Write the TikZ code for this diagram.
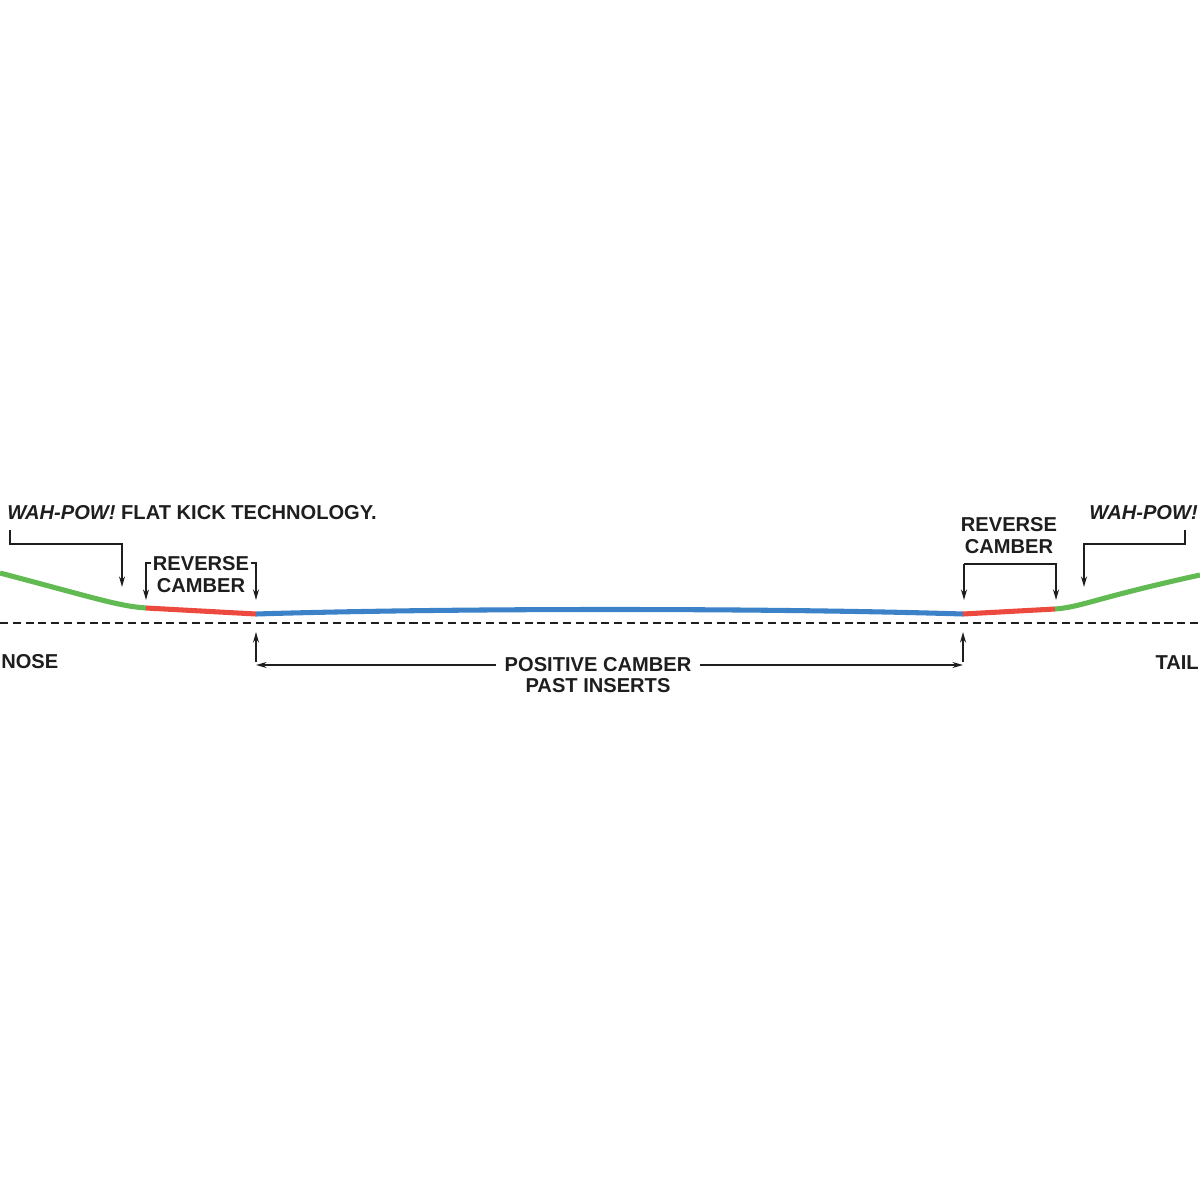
\documentclass[tikz,border=0pt]{standalone}
\usepackage{fontspec}
\setmainfont{Liberation Sans}
\usetikzlibrary{arrows.meta, positioning, calc}
\definecolor{verde}{RGB}{98, 186, 82}
\definecolor{vermelho}{RGB}{236, 74, 62}
\definecolor{azul}{RGB}{60, 130, 200}
\definecolor{tinta}{RGB}{30, 30, 30}
\tikzset{
  rotulo/.style={
    font=\fontsize{14.3}{15.6}\selectfont\bfseries, text=tinta,
    inner sep=0pt, align=center
  },
  seta/.style={-{Stealth[length=7.5pt, width=4.2pt]}, line width=1.3pt, tinta},
  prancha/.style={line width=3.6pt},
  tracejada/.style={dash pattern=on 5.7pt off 3.4pt, line width=1.2pt, tinta},
}

\begin{document}
\begin{tikzpicture}[x=0.025cm, y=-0.025cm]
\useasboundingbox (0,0) rectangle (1200,1200);

% perfil da prancha
\coordinate (bico)  at (0,573);
\coordinate (r1)    at (146,608);
\coordinate (a1)    at (256,614);
\coordinate (a2)    at (963,614);
\coordinate (r2)    at (1055,609);
\coordinate (cauda) at (1200,575);

\draw[tracejada] (0,623) -- (1200,623);

\draw[prancha, verde] (bico) .. controls (95,598) and (118,606) .. (r1);
\draw[prancha, vermelho] (r1) -- (a1);
\draw[prancha, azul] (a1) .. controls (450,608) and (770,608) .. (a2);
\draw[prancha, vermelho] (a2) -- (r2);
\draw[prancha, verde] (r2) .. controls (1082,607) and (1095,598) .. (cauda);

% textos
\node[rotulo, anchor=west] (kick) at (7,513)
  {\textit{WAH-POW!} FLAT KICK TECHNOLOGY.};
\node[rotulo] (rev1) at (201,575) {REVERSE\\CAMBER};
\node[rotulo] (rev2) at (1009,536) {REVERSE\\CAMBER};
\node[rotulo, anchor=east] (pow) at (1198,513) {\textit{WAH-POW!}};
\node[rotulo, anchor=west] (nose) at (1,662) {NOSE};
\node[rotulo, anchor=east] (tail) at (1199,663) {TAIL};
\node[rotulo] (pos) at (598,665) {POSITIVE CAMBER};
\node[rotulo, below=0.15cm of pos] (ins) {PAST INSERTS};

% chamadas
\coordinate (k1) at (10,530);
\coordinate (k2) at (122,587);
\draw[seta] (k1) -- (10,544) -- (122,544) -- (k2);

\coordinate (w1) at (1185,530);
\coordinate (w2) at (1084,587);
\draw[seta] (w1) -- (1185,544) -- (1084,544) -- (w2);

\coordinate (e1) at (146,563);
\coordinate (e2) at (256,563);
\draw[seta] ($(e1)+(5,0)$) -- (e1) -- (146,600);
\draw[seta] ($(e2)+(-5,0)$) -- (e2) -- (256,600);

\coordinate (d1) at (964,564);
\coordinate (d2) at (1056,564);
\draw[seta] (d1) -- (d2) -- (1056,600);
\draw[seta] (d1) -- (964,600);

% cota do camber positivo
\coordinate (c1) at (256,666);
\coordinate (c2) at (963,666);
\draw[seta] (256,662) -- (256,632);
\draw[seta] (963,662) -- (963,632);
\draw[seta] ($(pos.west)+(-8,0)$) -- (pos.west -| c1);
\draw[seta] ($(pos.east)+(8,0)$) -- (pos.east -| c2);

\end{tikzpicture}
\end{document}
